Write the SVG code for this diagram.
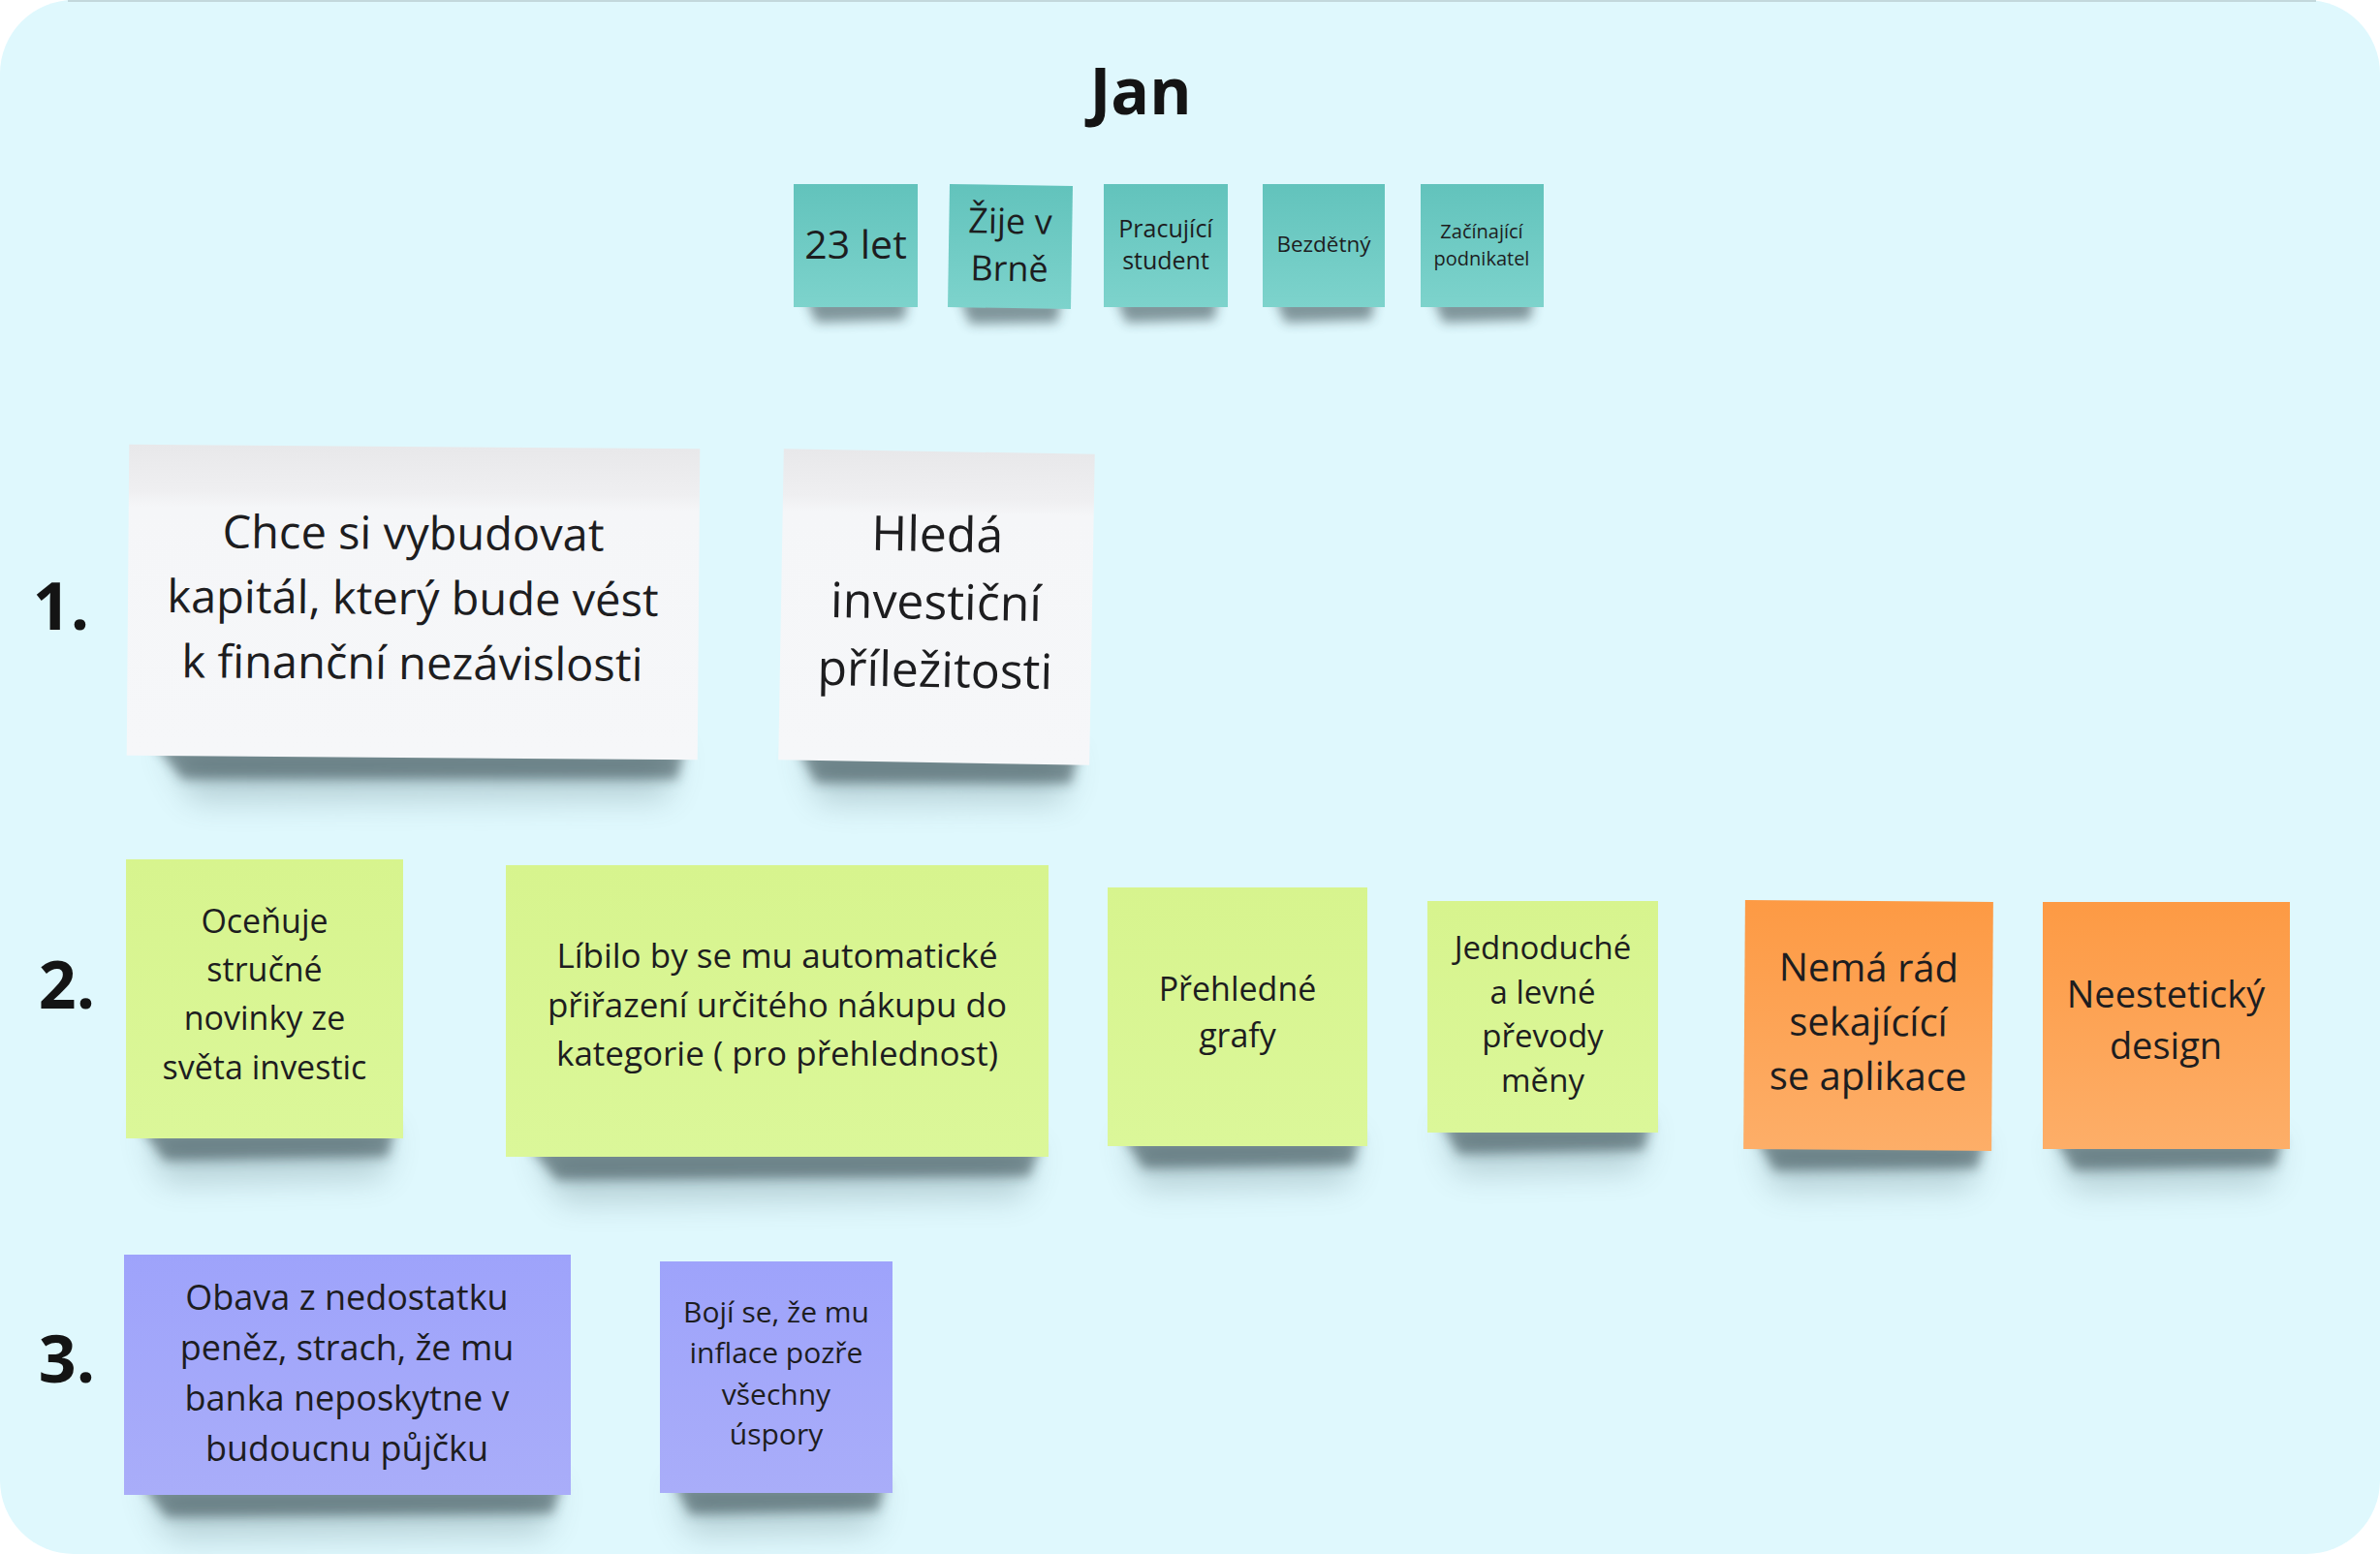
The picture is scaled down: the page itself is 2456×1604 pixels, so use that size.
<svg xmlns="http://www.w3.org/2000/svg" width="2456" height="1604" viewBox="0 0 2456 1604">
  <defs>
    <style>
      .t { font-family: "Open Sans", "Noto Sans", "DejaVu Sans", sans-serif; fill: #1d1d1f; text-anchor: middle; }
      .b { font-weight: 700; fill: #141414; }
      .sh { fill: #23343a; opacity: 0.5; filter: url(#blurS); }
      .sh2 { fill: #3a5a62; opacity: 0.25; filter: url(#blurL); }
      .teal { fill: url(#gTeal); }
      .white { fill: url(#gWhite); }
      .green { fill: url(#gGreen); }
      .orange { fill: url(#gOrange); }
      .purple { fill: url(#gPurple); }
    </style>
    <filter id="blurS" x="-20%" y="-100%" width="140%" height="300%"><feGaussianBlur stdDeviation="6"/></filter>
    <filter id="blurL" x="-20%" y="-100%" width="140%" height="300%"><feGaussianBlur stdDeviation="16"/></filter>
    <linearGradient id="gTeal" x1="0" y1="0" x2="0" y2="1">
      <stop offset="0" stop-color="#62c3bc"/><stop offset="1" stop-color="#7dd3cc"/>
    </linearGradient>
    <linearGradient id="gWhite" x1="0" y1="0" x2="0" y2="1">
      <stop offset="0" stop-color="#e8e8ea"/><stop offset="0.15" stop-color="#efeff1"/><stop offset="0.2" stop-color="#f5f6f8"/><stop offset="1" stop-color="#f6f7f9"/>
    </linearGradient>
    <linearGradient id="gGreen" x1="0" y1="0" x2="0" y2="1">
      <stop offset="0" stop-color="#d7f48e"/><stop offset="1" stop-color="#dbf799"/>
    </linearGradient>
    <linearGradient id="gOrange" x1="0" y1="0" x2="0" y2="1">
      <stop offset="0" stop-color="#fd9a44"/><stop offset="1" stop-color="#fdae68"/>
    </linearGradient>
    <linearGradient id="gPurple" x1="0" y1="0" x2="0" y2="1">
      <stop offset="0" stop-color="#9ea3fb"/><stop offset="1" stop-color="#a9adf9"/>
    </linearGradient>
  </defs>

  <g id="background">
    <rect x="0" y="0" width="2456" height="1604" fill="#ffffff"/>
    <rect x="0" y="0" width="2456" height="1604" rx="76" ry="76" fill="#dff8fd"/>
    <line x1="70" y1="1" x2="2390" y2="1" stroke="#c3d8dc" stroke-width="2"/>
  </g>

  <g id="title">
    <text class="t b" x="1177" y="118" font-size="66">Jan</text>
  </g>

  <g id="row-labels">
    <text class="t b" x="63" y="650" font-size="68">1.</text>
    <text class="t b" x="69" y="1041" font-size="68">2.</text>
    <text class="t b" x="69" y="1427" font-size="68">3.</text>
  </g>

  <!-- teal attribute notes -->
  <g id="note-age">
    <path class="sh" d="M831 306 L937 306 L933 330 L842 333 Z"/>
    <rect class="teal" x="819" y="190" width="128" height="127"/>
    <text class="t" x="883" y="267" font-size="41">23 let</text>
  </g>
  <g id="note-city" transform="rotate(0.9 1042 255)">
    <path class="sh" d="M991 308 L1096 308 L1092 332 L1002 335 Z"/>
    <rect class="teal" x="979" y="191" width="127" height="127"/>
    <text class="t" x="1042" y="241" font-size="36">Žije v</text>
    <text class="t" x="1042" y="290" font-size="36">Brně</text>
  </g>
  <g id="note-student">
    <path class="sh" d="M1151 306 L1257 306 L1253 330 L1162 333 Z"/>
    <rect class="teal" x="1139" y="190" width="128" height="127"/>
    <text class="t" x="1203" y="245" font-size="25">Pracující</text>
    <text class="t" x="1203" y="278" font-size="25">student</text>
  </g>
  <g id="note-childless">
    <path class="sh" d="M1315 306 L1419 306 L1415 330 L1326 333 Z"/>
    <rect class="teal" x="1303" y="190" width="126" height="127"/>
    <text class="t" x="1366" y="260" font-size="22.5">Bezdětný</text>
  </g>
  <g id="note-entrepreneur">
    <path class="sh" d="M1478 306 L1583 306 L1579 330 L1489 333 Z"/>
    <rect class="teal" x="1466" y="190" width="127" height="127"/>
    <text class="t" x="1529" y="246" font-size="20">Začínající</text>
    <text class="t" x="1529" y="274" font-size="20">podnikatel</text>
  </g>

  <!-- row 1: goals -->
  <g id="note-goal-capital" transform="rotate(0.45 426 622)">
    <path class="sh2" d="M170 770 L700 770 L690 822 L200 828 Z"/>
    <path class="sh" d="M160 770 L708 770 L700 802 L190 806 Z"/>
    <rect class="white" x="132" y="461" width="589" height="321"/>
    <text class="t" x="426" y="567" font-size="47">Chce si vybudovat</text>
    <text class="t" x="426" y="634" font-size="47">kapitál, který bude vést</text>
    <text class="t" x="426" y="701" font-size="47">k finanční nezávislosti</text>
  </g>
  <g id="note-goal-invest" transform="rotate(1 966 626)">
    <path class="sh2" d="M830 775 L1110 775 L1100 825 L850 830 Z"/>
    <path class="sh" d="M825 774 L1116 774 L1108 806 L845 810 Z"/>
    <rect class="white" x="806" y="466" width="321" height="321"/>
    <text class="t" x="966" y="569" font-size="50">Hledá</text>
    <text class="t" x="966" y="639" font-size="50">investiční</text>
    <text class="t" x="966" y="709" font-size="50">příležitosti</text>
  </g>

  <!-- row 2: likes / dislikes -->
  <g id="note-news">
    <path class="sh2" d="M150 1165 L405 1165 L395 1215 L170 1220 Z"/>
    <path class="sh" d="M145 1164 L408 1164 L400 1194 L170 1198 Z"/>
    <rect class="green" x="130" y="887" width="286" height="288"/>
    <text class="t" x="273" y="963" font-size="34">Oceňuje</text>
    <text class="t" x="273" y="1013" font-size="34">stručné</text>
    <text class="t" x="273" y="1063" font-size="34">novinky ze</text>
    <text class="t" x="273" y="1114" font-size="34">světa investic</text>
  </g>
  <g id="note-auto-category">
    <path class="sh2" d="M550 1184 L1070 1184 L1055 1235 L580 1240 Z"/>
    <path class="sh" d="M545 1183 L1074 1183 L1062 1214 L575 1218 Z"/>
    <rect class="green" x="522" y="893" width="560" height="301"/>
    <text class="t" x="802" y="999" font-size="35">Líbilo by se mu automatické</text>
    <text class="t" x="802" y="1050" font-size="35">přiřazení určitého nákupu do</text>
    <text class="t" x="802" y="1100" font-size="35">kategorie ( pro přehlednost)</text>
  </g>
  <g id="note-charts">
    <path class="sh2" d="M1160 1173 L1400 1173 L1390 1222 L1180 1226 Z"/>
    <path class="sh" d="M1158 1172 L1404 1172 L1396 1202 L1180 1206 Z"/>
    <rect class="green" x="1143" y="916" width="268" height="267"/>
    <text class="t" x="1277" y="1033" font-size="34">Přehledné</text>
    <text class="t" x="1277" y="1081" font-size="34">grafy</text>
  </g>
  <g id="note-currency">
    <path class="sh2" d="M1488 1159 L1700 1159 L1690 1207 L1505 1211 Z"/>
    <path class="sh" d="M1486 1158 L1704 1158 L1696 1187 L1505 1191 Z"/>
    <rect class="green" x="1473" y="930" width="238" height="239"/>
    <text class="t" x="1592" y="990" font-size="33">Jednoduché</text>
    <text class="t" x="1592" y="1036" font-size="33">a levné</text>
    <text class="t" x="1592" y="1081" font-size="33">převody</text>
    <text class="t" x="1592" y="1127" font-size="33">měny</text>
  </g>
  <g id="note-crashing-app" transform="rotate(0.4 1928 1058)">
    <path class="sh2" d="M1815 1177 L2045 1177 L2035 1225 L1832 1229 Z"/>
    <path class="sh" d="M1813 1176 L2049 1176 L2041 1205 L1832 1209 Z"/>
    <rect class="orange" x="1800" y="930" width="256" height="257"/>
    <text class="t" x="1928" y="1013" font-size="40">Nemá rád</text>
    <text class="t" x="1928" y="1069" font-size="40">sekajícící</text>
    <text class="t" x="1928" y="1125" font-size="40">se aplikace</text>
  </g>
  <g id="note-ugly-design">
    <path class="sh2" d="M2122 1176 L2352 1176 L2342 1224 L2140 1228 Z"/>
    <path class="sh" d="M2120 1175 L2356 1175 L2348 1204 L2140 1208 Z"/>
    <rect class="orange" x="2108" y="931" width="255" height="255"/>
    <text class="t" x="2235" y="1040" font-size="38">Neestetický</text>
    <text class="t" x="2235" y="1093" font-size="38">design</text>
  </g>

  <!-- row 3: fears -->
  <g id="note-fear-loan">
    <path class="sh2" d="M150 1533 L575 1533 L562 1583 L175 1587 Z"/>
    <path class="sh" d="M145 1532 L580 1532 L570 1562 L172 1566 Z"/>
    <rect class="purple" x="128" y="1295" width="461" height="248"/>
    <text class="t" x="358" y="1352" font-size="36">Obava z nedostatku</text>
    <text class="t" x="358" y="1404" font-size="36">peněz, strach, že mu</text>
    <text class="t" x="358" y="1456" font-size="36">banka neposkytne v</text>
    <text class="t" x="358" y="1508" font-size="36">budoucnu půjčku</text>
  </g>
  <g id="note-fear-inflation">
    <path class="sh2" d="M696 1531 L910 1531 L900 1579 L712 1583 Z"/>
    <path class="sh" d="M694 1530 L914 1530 L906 1559 L712 1563 Z"/>
    <rect class="purple" x="681" y="1302" width="240" height="239"/>
    <text class="t" x="801" y="1365" font-size="30">Bojí se, že mu</text>
    <text class="t" x="801" y="1407" font-size="30">inflace pozře</text>
    <text class="t" x="801" y="1450" font-size="30">všechny</text>
    <text class="t" x="801" y="1491" font-size="30">úspory</text>
  </g>

  <g id="connectors"/>
</svg>
